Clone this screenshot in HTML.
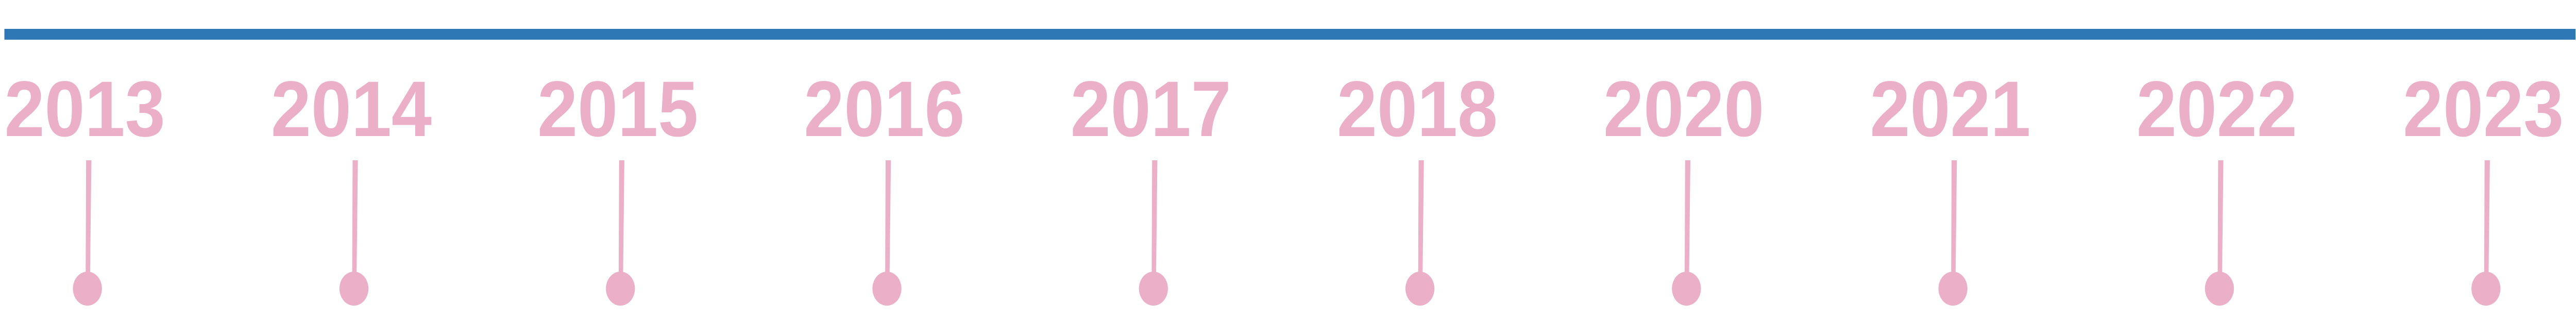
<!DOCTYPE html>
<html><head><meta charset="utf-8"><style>
html,body{margin:0;padding:0;background:#fff;width:100%;height:100%;overflow:hidden;}
svg{display:block;width:100vw;height:100vh;}
text{font-family:"Liberation Sans",sans-serif;font-weight:bold;}
</style></head><body>
<svg id="chart" viewBox="0 0 5863 617" preserveAspectRatio="none" xmlns="http://www.w3.org/2000/svg">
<rect x="10" y="56" width="5852" height="21" fill="#2e78b5"/>
<g id="marks"></g>
</svg>
<script>
const shownLabels = ["2013","2014","2015","2016","2017","2018","2020","2021","2022","2023"];
const NS = "http://www.w3.org/2000/svg";
const g = document.getElementById('marks');
const x0 = 201, x1 = 5660;
function xScale(i){ return x0 + (x1 - x0) * i / (shownLabels.length - 1); }
shownLabels.forEach((lab, i) => {
  const x = xScale(i);
  const t = document.createElementNS(NS, 'text');
  t.setAttribute('x', x - 191);
  t.setAttribute('y', 264);
  t.setAttribute('font-size', 153);
  t.setAttribute('textLength', 366);
  t.setAttribute('lengthAdjust', 'spacingAndGlyphs');
  t.setAttribute('fill', '#ebafc7');
  t.textContent = lab;
  
  
  g.appendChild(t);
  const p = document.createElementNS(NS, 'polygon');
  p.setAttribute('points', `${x-5},311 ${x+7},311 ${x+4},535 ${x-6},535`);
  p.setAttribute('fill', '#ebafc7');
  
  
  g.appendChild(p);
  const e = document.createElementNS(NS, 'ellipse');
  e.setAttribute('cx', x - 2);
  e.setAttribute('cy', 560);
  e.setAttribute('rx', 33);
  e.setAttribute('ry', 33);
  e.setAttribute('fill', '#ebafc7');
  
  
  g.appendChild(e);
});
</script>
</body></html>
